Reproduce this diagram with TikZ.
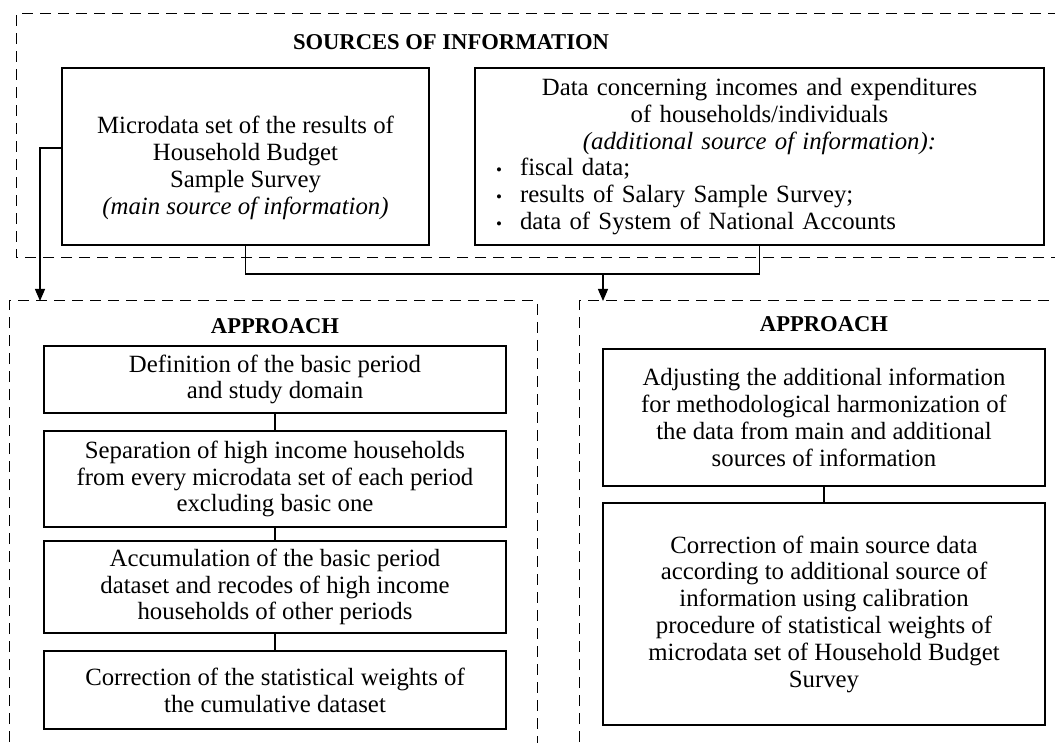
\documentclass[tikz,border=0pt]{standalone}
\usepackage{fontspec}
\setmainfont{Liberation Serif}
\usetikzlibrary{arrows.meta}

\newcommand{\itembul}{\makebox[22.5pt][l]{\hspace{10.5pt}{\fontsize{8.5}{8.5}\selectfont\textbullet}}}

\begin{document}
\begin{tikzpicture}[x=0.5pt, y=-0.5pt,
    srcbox/.style={draw, line width=0.6pt, align=center, inner sep=0pt,
      font=\fontsize{12.4}{13.4}\selectfont},
    frame/.style={dash pattern=on 5.5pt off 3.5pt, line width=0.5pt},
    head/.style={font=\fontsize{11.3}{13}\selectfont\bfseries},
    link/.style={line width=0.6pt},
    arr/.style={link, -{Triangle[width=5pt,length=6pt]}}]
  \useasboundingbox (0,0) rectangle (1055,743);
  \clip (0,0) rectangle (1055,743);

  % dashed frames
  \draw[frame] (1080,258) -- (16,258) -- (16,14) -- (1080,14);
  \draw[frame] (9,760) -- (9,301) -- (537,301) -- (537,760);
  \draw[frame] (579,760) -- (579,301) -- (1080,301);

  % sources
  \node[head] (srctitle) at (451,42) {SOURCES OF INFORMATION};
  \node[srcbox, minimum width=183.5pt, minimum height=88.5pt] (micro) at (245.5,156.5)
    {\rule{0pt}{20pt}Microdata set of the results of\\ Household Budget\\ Sample Survey\\
     \textit{(main source of information)}};
  \node[srcbox, text width=284.5pt, minimum height=88.5pt] (addsrc) at (759.5,156.5)
    {Data concerning incomes and expenditures\\ of households/individuals\\
     \textit{(additional source of information):}\par
     \raggedright\itembul fiscal data;\\
     \itembul results of Salary Sample Survey;\\
     \itembul data of System of National Accounts\par};

  % approach (left)
  \node[head] (apptitleL) at (275,326) {APPROACH};
  \node[srcbox, minimum width=231pt, minimum height=33.5pt] (defn) at (275,379.5)
    {Definition of the basic period\\ and study domain};
  \node[srcbox, minimum width=231pt, minimum height=48pt] (sep) at (275,479)
    {Separation of high income households\\ from every microdata set of each period\\ excluding basic one};
  \node[srcbox, minimum width=231pt, minimum height=46pt] (accum) at (275,587)
    {Accumulation of the basic period\\ dataset and recodes of high income\\ households of other periods};
  \node[srcbox, minimum width=231pt, minimum height=39pt] (corw) at (275,690)
    {Correction of the statistical weights of\\ the cumulative dataset};

  % approach (right)
  \node[head] (apptitleR) at (824,324) {APPROACH};
  \node[srcbox, minimum width=221pt, minimum height=68.5pt] (adjust) at (824,417.5)
    {Adjusting the additional information\\ for methodological harmonization of\\
     the data from main and additional\\ sources of information};
  \node[srcbox, minimum width=221pt, minimum height=111pt] (calib) at (824,614)
    {Correction of main source data\\ according to additional source of\\
     information using calibration\\ procedure of statistical weights of\\
     microdata set of Household Budget\\ Survey};

  % connectors
  \coordinate (inL) at (40,301);
  \coordinate (bus) at (603,274);
  \coordinate (inR) at (603,301);
  \draw[arr] ([yshift=4.25pt]micro.west) -| (inL);
  \draw[link] (micro.south) |- (bus) -| (addsrc.south);
  \draw[arr] (bus) -- (inR);
  \foreach \a/\b in {defn/sep, sep/accum, accum/corw, adjust/calib}
    \draw[link] (\a) -- (\b);
\end{tikzpicture}
\end{document}
